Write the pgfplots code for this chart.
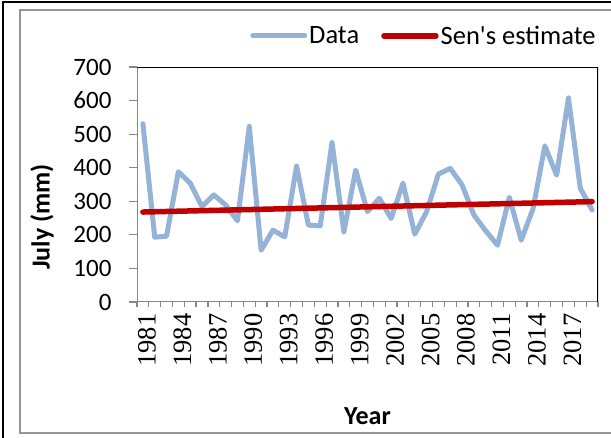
\documentclass[border=0pt]{standalone}
\usepackage{pgfplots}
\pgfplotsset{compat=1.18}
\usepackage{fontspec}
\setmainfont{Carlito}[Ligatures=TeXOff]
\newfontfamily\timesfont{Liberation Serif}
\definecolor{databl}{RGB}{149,179,215}
\definecolor{senred}{RGB}{192,0,0}
\definecolor{spinegray}{RGB}{134,134,134}
\definecolor{framegray}{RGB}{150,150,150}
\begin{document}
\begin{tikzpicture}
\useasboundingbox (0,0) rectangle (611bp,438bp);
\fill[white] (0,0) rectangle (611bp,438bp);
\draw[black, line width=2bp] (3bp,0bp) -- (3bp,436bp) -- (611bp,436bp);
\draw[framegray, line width=2.5bp] (611bp,428bp) -- (20bp,428bp) -- (20bp,5bp) -- (611bp,5bp);
\begin{axis}[
  at={(137bp,136bp)}, anchor=south west,
  scale only axis, width=461bp, height=235bp,
  xmin=1980.5, xmax=2019.5, ymin=0, ymax=700,
  axis line style={draw=none},
  tick pos=left,
  xtick={1981,1984,...,2017},
  minor xtick={1980.5,1981.5,...,2019.5},
  ytick={0,100,...,700},
  tick align=outside,
  major tick length=8bp, minor tick length=5bp,
  tick style={spinegray, line width=1.2bp},
  major x tick style={draw=none},
  /pgf/number format/assume math mode=true,
  /pgf/number format/1000 sep={},
  yticklabel style={font=\fontsize{25bp}{28bp}\selectfont, xshift=-14bp},
  xticklabels={1981,1984,1987,1990,1993,1996,1999,2002,2005,2008,2011,2014,2017},
  xticklabel style={font=\timesfont\fontsize{26.5bp}{29bp}\selectfont, rotate=90, anchor=east, yshift=-4bp},
  xlabel={\textbf{Year}}, ylabel={\textbf{July (mm)}},
  xlabel style={font=\fontsize{26bp}{30bp}\selectfont, at={(axis description cs:0.5,-0.523)}, anchor=base},
  ylabel style={font=\fontsize{26bp}{30bp}\selectfont, at={(axis description cs:-0.206,0.362)}, anchor=center},
  legend columns=2,
  legend style={draw=none, fill=none, at={(axis description cs:1.006,1.133)}, anchor=east,
    font=\fontsize{26.5bp}{29bp}\selectfont,
    /tikz/every even column/.append style={column sep=20bp}},
  legend image code/.code={\draw[#1] (0bp,0bp) -- (52bp,0bp);},
]
\addplot[databl, line width=5bp, line join=round, line cap=round] coordinates {
(1981,531) (1982,193) (1983,196) (1984,388) (1985,354) (1986,284) (1987,319)
(1988,289) (1989,242) (1990,523) (1991,154) (1992,214) (1993,194) (1994,405)
(1995,229) (1996,227) (1997,475) (1998,209) (1999,393) (2000,269) (2001,309)
(2002,249) (2003,354) (2004,202) (2005,269) (2006,381) (2007,398) (2008,349)
(2009,259) (2010,212) (2011,169) (2012,312) (2013,184) (2014,277) (2015,465)
(2016,378) (2017,608) (2018,339) (2019,274)
};
\addlegendentry{Data}
\addplot[senred, line width=5.5bp, line cap=round] coordinates {(1981,268) (2019,299)};
\addlegendentry{Sen's estimate}
\draw[spinegray, line width=1.8bp] (rel axis cs:0,1) -- (rel axis cs:0,0) -- (rel axis cs:1,0);
\draw[black, line width=1.8bp] (rel axis cs:0,1) -- (rel axis cs:1,1) -- (rel axis cs:1,0);
\end{axis}
\end{tikzpicture}
\end{document}
